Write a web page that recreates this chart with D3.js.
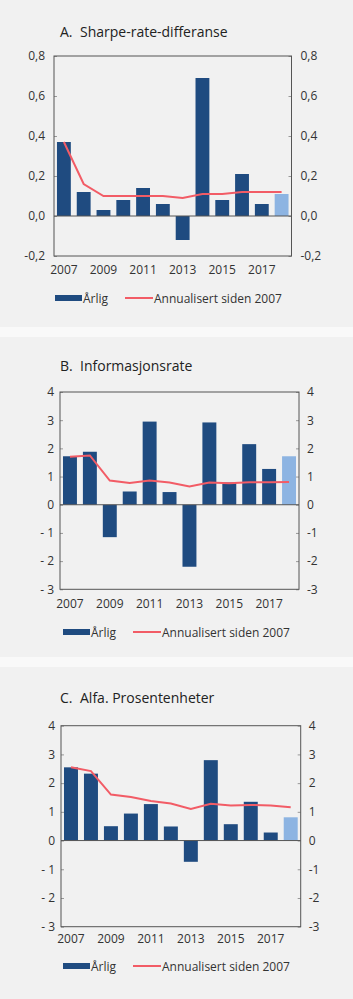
<!DOCTYPE html>
<meta charset="utf-8">
<script src="https://d3js.org/d3.v7.min.js"></script>
<style type="text/css">
body { margin: 0; background: #f9f9f9; }
svg { display: block; font-family: "Open Sans", sans-serif; }
.panel-bg { fill: #f1f1f1; }
.frame { fill: none; stroke: #555; stroke-width: 1; }
.tick line { stroke: #999; }
.tick text { fill: #333; font-size: 12px; }
.tittel { fill: #222; font-size: 14px; white-space: pre; }
.leg { fill: #333; font-size: 12px; }
</style>
<body>
<div id="canvas"></div>
<script>

var years = [2007, 2008, 2009, 2010, 2011, 2012, 2013, 2014, 2015, 2016, 2017, 2018];
var yearLabels = ["2007", "2009", "2011", "2013", "2015", "2017"];

// A. Sharpe-rate-differanse
var sharpeArlig = [0.37, 0.12, 0.03, 0.08, 0.14, 0.06, -0.12, 0.69, 0.08, 0.21, 0.06, 0.11];
var sharpeAnn   = [0.37, 0.16, 0.10, 0.10, 0.10, 0.10, 0.09, 0.11, 0.11, 0.12, 0.12, 0.12];
var sharpeTicks = [-0.2, 0, 0.2, 0.4, 0.6, 0.8];
var sharpeLeft  = ["-0,2", "0,0", "0,2", "0,4", "0,6", "0,8"];
var sharpeRight = ["-0,2", "0,0", "0,2", "0,4", "0,6", "0,8"];

// B. Informasjonsrate
var infoArlig = [1.72, 1.88, -1.15, 0.47, 2.95, 0.45, -2.2, 2.92, 0.79, 2.15, 1.27, 1.72];
var infoAnn   = [1.70, 1.75, 0.86, 0.77, 0.86, 0.79, 0.65, 0.79, 0.76, 0.80, 0.80, 0.81];
var infoTicks = [-3, -2, -1, 0, 1, 2, 3, 4];
var infoLeft  = ["- 3", "- 2", "- 1", "0", "1", "2", "3", "4"];
var infoRight = ["-3", "-2", "-1", "0", "1", "2", "3", "4"];

// C. Alfa. Prosentenheter
var alfaArlig = [2.55, 2.33, 0.50, 0.94, 1.27, 0.49, -0.74, 2.80, 0.57, 1.35, 0.28, 0.81];
var alfaAnn   = [2.55, 2.42, 1.60, 1.52, 1.38, 1.29, 1.10, 1.28, 1.22, 1.24, 1.22, 1.16];

var width = 353, height = 999;

var svg = d3.select('#canvas')
	.append("svg")
	.attr("width", width)
	.attr("height", height);

function panel(cfg) {
	var g = svg.append("g").attr("transform", "translate(0," + cfg.y0 + ")");

	g.append("rect")
		.attr("class", "panel-bg")
		.attr("x", 0).attr("y", 0)
		.attr("width", width).attr("height", cfg.h);

	// title: letter and text as two pieces, so the gap stays
	var t = g.append("text")
		.attr("class", "tittel")
		.attr("y", cfg.titleY);
	t.append("tspan").attr("x", 60).text(cfg.letter);
	t.append("tspan").attr("x", 80).text(cfg.title);

	var x = d3.scaleBand()
		.domain(years)
		.range([cfg.left, cfg.right])
		.paddingInner(0.3)
		.paddingOuter(0.15);

	var y = d3.scaleLinear()
		.domain(cfg.domain)
		.range([cfg.bottom, cfg.top]);

	// bars
	g.selectAll(".bar")
		.data(cfg.arlig)
		.enter().append("rect")
		.attr("x", function(d, i) { return x(years[i]); })
		.attr("width", x.bandwidth())
		.attr("y", function(d) { return y(Math.max(0, d)); })
		.attr("height", function(d) { return Math.abs(y(d) - y(0)); })
		.attr("fill", function(d, i) { return i == years.length - 1 ? "#8db4e2" : "#1f4b80"; });

	// axes (ticks inside)
	var yl = d3.axisLeft(y).tickValues(cfg.ticks).tickSize(-3).tickPadding(cfg.padL)
		.tickFormat(function(d, i) { return cfg.leftLab[i]; });
	var yr = d3.axisRight(y).tickValues(cfg.ticks).tickSize(-3).tickPadding(cfg.padR)
		.tickFormat(function(d, i) { return cfg.rightLab[i]; });

	var gl = g.append("g").attr("transform", "translate(" + cfg.left + ",0)").call(yl);
	var gr = g.append("g").attr("transform", "translate(" + cfg.right + ",0)").call(yr);
	gl.select(".domain").remove();
	gr.select(".domain").remove();
	gl.attr("font-family", null).attr("font-size", null);
	gr.attr("font-family", null).attr("font-size", null);

	// zero line
	g.append("line")
		.attr("x1", cfg.left).attr("x2", cfg.right)
		.attr("y1", y(0)).attr("y2", y(0))
		.attr("stroke", "#555");

	// frame
	g.append("rect")
		.attr("class", "frame")
		.attr("x", cfg.left).attr("y", cfg.top)
		.attr("width", cfg.right - cfg.left)
		.attr("height", cfg.bottom - cfg.top);

	// line
	var line = d3.line()
		.x(function(d, i) { return x(years[i]) + x.bandwidth() / 2; })
		.y(function(d) { return y(d); });

	g.append("path")
		.attr("d", line(cfg.ann))
		.attr("fill", "none")
		.attr("stroke", "#f25c66")
		.attr("stroke-width", 2);

	// year labels
	g.selectAll(".yr")
		.data(yearLabels)
		.enter().append("text")
		.attr("class", "leg")
		.attr("x", function(d) { return x(+d) + x.bandwidth() / 2; })
		.attr("y", cfg.xLabY)
		.attr("text-anchor", "middle")
		.text(function(d) { return d; });

	// legend
	var lx = cfg.legX;
	g.append("rect")
		.attr("x", lx).attr("y", cfg.legY - 3)
		.attr("width", 27).attr("height", 6)
		.attr("fill", "#1f4b80");
	g.append("text").attr("class", "leg")
		.attr("x", lx + 28).attr("y", cfg.legY + 4.5).text("Årlig");
	g.append("line")
		.attr("x1", lx + 70).attr("x2", lx + 98)
		.attr("y1", cfg.legY).attr("y2", cfg.legY)
		.attr("stroke", "#f25c66").attr("stroke-width", 2);
	g.append("text").attr("class", "leg")
		.attr("x", lx + 99).attr("y", cfg.legY + 4.5).text("Annualisert siden 2007");
}

panel({ y0: 0, h: 327, letter: "A.", title: "Sharpe-rate-differanse", titleY: 37,
	left: 54, right: 291.5, top: 56, bottom: 256, domain: [-0.2, 0.8],
	ticks: sharpeTicks, leftLab: sharpeLeft, rightLab: sharpeRight, padL: 9, padR: 9,
	arlig: sharpeArlig, ann: sharpeAnn, xLabY: 274, legX: 55, legY: 298 });

panel({ y0: 337, h: 320, letter: "B.", title: "Informasjonsrate", titleY: 33.7,
	left: 60, right: 299, top: 55, bottom: 252.3, domain: [-3, 4],
	ticks: infoTicks, leftLab: infoLeft, rightLab: infoRight, padL: 6, padR: 8,
	arlig: infoArlig, ann: infoAnn, xLabY: 270.7, legX: 63, legY: 295 });

panel({ y0: 667, h: 332, letter: "C.", title: "Alfa. Prosentenheter", titleY: 36.3,
	left: 61, right: 300.7, top: 58.7, bottom: 259.7, domain: [-3, 4],
	ticks: infoTicks, leftLab: infoLeft, rightLab: infoRight, padL: 6, padR: 8,
	arlig: alfaArlig, ann: alfaAnn, xLabY: 276.3, legX: 63, legY: 299 });

</script>
</body>
